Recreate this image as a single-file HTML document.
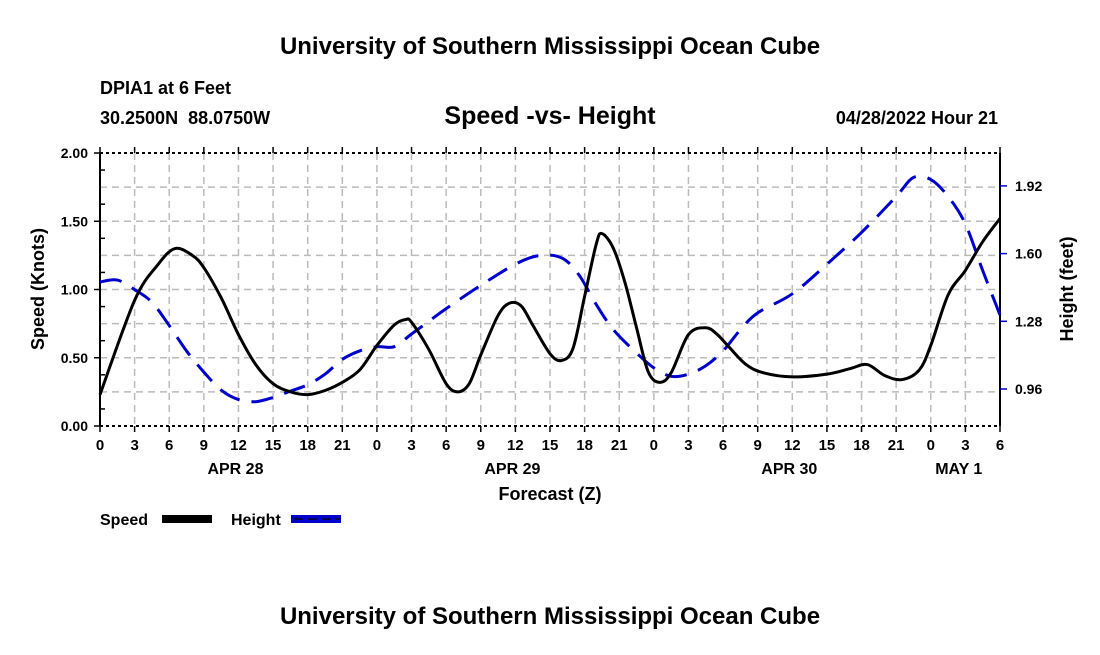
<!DOCTYPE html>
<html><head><meta charset="utf-8"><style>
body{margin:0;background:#fff;}
svg text{font-family:"Liberation Sans",sans-serif;font-weight:bold;white-space:pre;}
</style></head><body>
<svg id="c" width="1100" height="650" viewBox="0 0 1100 650">
<text x="550" y="54" text-anchor="middle" font-size="24">University of Southern Mississippi Ocean Cube</text>
<text x="100" y="94" font-size="18">DPIA1 at 6 Feet</text>
<text x="100" y="124" font-size="18">30.2500N  88.0750W</text>
<text x="550" y="124" text-anchor="middle" font-size="25">Speed -vs- Height</text>
<text x="998" y="124" text-anchor="end" font-size="18">04/28/2022 Hour 21</text>
<g id="grid"></g>
<g id="axes"></g>
<g id="series"></g>
<text transform="translate(44,289) rotate(-90)" text-anchor="middle" font-size="18">Speed (Knots)</text>
<text transform="translate(1073,289) rotate(-90)" text-anchor="middle" font-size="18">Height (feet)</text>
<text x="550" y="500" text-anchor="middle" font-size="18">Forecast (Z)</text>
<text x="100" y="525" font-size="16">Speed</text>
<rect x="162" y="515" width="50" height="8" fill="#000"/>
<text x="231" y="525" font-size="16">Height</text>
<rect x="291" y="515" width="50" height="8" fill="#00c"/>
<line x1="294" y1="519" x2="340" y2="519" stroke="#003" stroke-width="1.5" stroke-dasharray="9,5"/>
<text x="550" y="624" text-anchor="middle" font-size="24">University of Southern Mississippi Ocean Cube</text>
</svg>
<script>
const speedHours=[0,3,5,6.5,8,9,10.5,12,13.5,15,16.5,18,19.5,21,22.5,24,25.5,26.5,27,28.5,30,31,32,33,34.5,35.5,36.5,37.5,39,40,41,42,43,43.5,44.5,45.5,46.5,47.5,48.5,49.5,51,52.5,53.5,54.5,56,57.5,60,63,65,66.5,68,69.5,71,72,73.5,75,76.5,78];
const speedValues=[0.23,0.92,1.18,1.30,1.25,1.16,0.94,0.67,0.45,0.31,0.25,0.23,0.26,0.32,0.41,0.59,0.74,0.78,0.76,0.56,0.31,0.25,0.31,0.52,0.81,0.90,0.88,0.74,0.53,0.48,0.57,0.95,1.33,1.41,1.30,1.05,0.72,0.40,0.32,0.39,0.67,0.72,0.67,0.58,0.45,0.39,0.36,0.38,0.42,0.45,0.37,0.34,0.41,0.59,0.96,1.14,1.35,1.52];
const heightHours=[0,1.5,3,4.5,6,7.5,9,10.5,12,13.5,15,16.5,18,19.5,21,22.5,24,25.5,27,28.5,30,33,36,38,40,41.5,43,44.5,46.5,48,49.5,51,52.5,54,55.5,57,60,63,66,69,70.5,72,73.5,75,76.5,78];
const heightValues=[1.466,1.475,1.43,1.37,1.26,1.14,1.04,0.955,0.91,0.90,0.92,0.95,0.98,1.03,1.10,1.14,1.16,1.16,1.22,1.28,1.34,1.45,1.55,1.59,1.58,1.50,1.36,1.24,1.13,1.06,1.02,1.03,1.07,1.14,1.24,1.32,1.41,1.55,1.70,1.87,1.96,1.95,1.87,1.74,1.52,1.31];
const speedTicks=["0.00","0.50","1.00","1.50","2.00"];
const heightTicks=["0.96","1.28","1.60","1.92"];
const hourLabels=["0","3","6","9","12","15","18","21"];
const dayLabels=["APR 28","APR 29","APR 30","MAY 1"];

const X0=100,X1=1000,YT=153,YB=426,H0=0,H1=78;
const x=h=>X0+(h-H0)/(H1-H0)*(X1-X0);
const yS=s=>YB-s/2*(YB-YT);
const yH=v=>389-(v-0.96)/0.32*67.7;
const NS='http://www.w3.org/2000/svg';
function mk(p,t,a){const e=document.createElementNS(NS,t);for(const k in a)e.setAttribute(k,a[k]);p.appendChild(e);return e;}
const grid=document.getElementById('grid'),axes=document.getElementById('axes'),ser=document.getElementById('series');
for(let h=3;h<H1;h+=3){const l=mk(grid,'line',{x1:x(h),x2:x(h),y1:YT,y2:YB,stroke:'#bbb','stroke-width':1.5,'stroke-dasharray':'7,5'});
}
for(let s=0.25;s<2;s+=0.25){const l=mk(grid,'line',{x1:X0,x2:X1,y1:yS(s),y2:yS(s),stroke:'#bbb','stroke-width':1.5,'stroke-dasharray':'7,5'});
}
mk(axes,'line',{x1:X0,x2:X0,y1:YT,y2:YB,stroke:'#000','stroke-width':2});
mk(axes,'line',{x1:X1,x2:X1,y1:YT,y2:YB,stroke:'#000','stroke-width':2});
mk(axes,'line',{x1:X0,x2:X1,y1:YT,y2:YT,stroke:'#000','stroke-width':2,'stroke-dasharray':'3,3'});
mk(axes,'line',{x1:X0,x2:X1,y1:YB,y2:YB,stroke:'#000','stroke-width':2,'stroke-dasharray':'3,3'});
speedTicks.forEach(t=>{const y=yS(+t);mk(axes,'line',{x1:X0-6,x2:X0,y1:y,y2:y,stroke:'#000','stroke-width':1.5});
const e=mk(axes,'text',{x:X0-12,y:y+5,'text-anchor':'end','font-size':14});e.textContent=t;
});
for(let s=0.125;s<2;s+=0.25)mk(axes,'line',{x1:X0,x2:X0+5,y1:yS(s),y2:yS(s),stroke:'#000','stroke-width':1.5});
heightTicks.forEach(t=>{const y=yH(+t);mk(axes,'line',{x1:X1,x2:X1+7,y1:y,y2:y,stroke:'#00c','stroke-width':1.5});
const e=mk(axes,'text',{x:X1+15,y:y+5,'font-size':14});e.textContent=t;
});
for(let h=0;h<=H1;h+=3){mk(axes,'line',{x1:x(h),x2:x(h),y1:YB,y2:YB+6,stroke:'#000','stroke-width':1.5});
mk(axes,'line',{x1:x(h),x2:x(h),y1:YT-6,y2:YT,stroke:'#000','stroke-width':1.5});
const e=mk(axes,'text',{x:x(h),y:YB+24,'text-anchor':'middle','font-size':15});e.textContent=hourLabels[(h%24)/3];
}
dayLabels.forEach((d,i)=>{const e=mk(axes,'text',{x:x(i*24+12)-3,y:YB+48,'text-anchor':'middle','font-size':16});
if(i==3)e.setAttribute('x',x(i*24)+28);e.textContent=d;
});
function path(hs,vs,fy){const p=hs.map((h,i)=>[x(h),fy(vs[i])]);let d='M'+p[0][0]+','+p[0][1];
for(let i=0;i<p.length-1;i++){const a=p[Math.max(0,i-1)],b=p[i],c=p[i+1],e=p[Math.min(p.length-1,i+2)];
d+=` C${b[0]+(c[0]-a[0])/6},${b[1]+(c[1]-a[1])/6} ${c[0]-(e[0]-b[0])/6},${c[1]-(e[1]-b[1])/6} ${c[0]},${c[1]}`;}return d;}
const hp=mk(ser,'path',{d:path(heightHours,heightValues,yH),fill:'none',stroke:'#00c','stroke-width':3,'stroke-dasharray':'22,12'});

const sp=mk(ser,'path',{d:path(speedHours,speedValues,yS),fill:'none',stroke:'#000','stroke-width':3});

</script>
</body></html>
